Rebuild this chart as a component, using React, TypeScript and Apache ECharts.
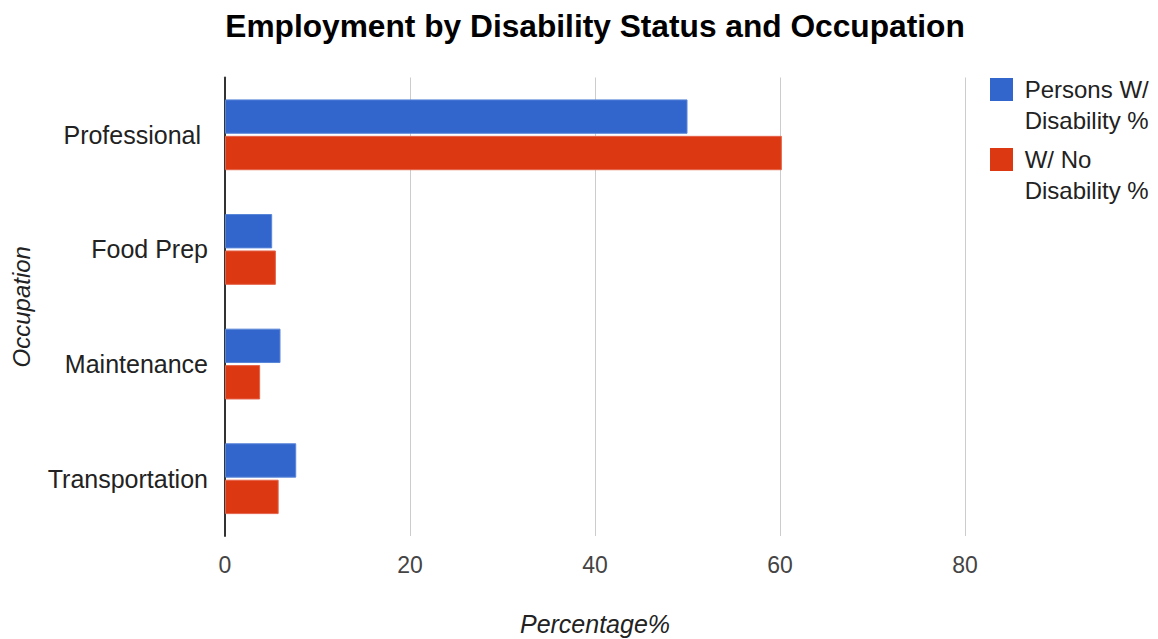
import React, { useEffect, useRef } from "react";
import * as echarts from "echarts";

const categories = ["Professional ", "Food Prep", "Maintenance", "Transportation"];
const withDisability = [50, 5.1, 6, 7.7];
const noDisability = [60.2, 5.5, 3.8, 5.8];
const seriesNames = ["Persons W/ Disability %", "W/ No Disability %"];
const legendLabels: Record<string, string> = {
  "Persons W/ Disability %": "\n Persons W/\n Disability %",
  "W/ No Disability %": "\n W/ No\n Disability %",
};

const FONT = "'Liberation Sans', Arial, sans-serif";

export default function App() {
  const ref = useRef<HTMLDivElement>(null);
  useEffect(() => {
    if (!ref.current) return;
    const chart = echarts.init(ref.current, undefined, { renderer: "svg" });
    chart.setOption({
      animation: false,
      backgroundColor: "#fff",
      textStyle: { fontFamily: FONT },
      title: {
        text: "Employment by Disability Status and Occupation",
        left: 590,
        textAlign: "center",
        top: 5,
        textStyle: { fontFamily: FONT, fontSize: 31.7, fontWeight: "bold", color: "#000" },
      },
      legend: {
        orient: "vertical",
        left: 990,
        top: 43,
        padding: 0,
        itemWidth: 23,
        itemHeight: 23,
        itemGap: -23,
        icon: "rect",
        data: seriesNames,
        formatter: (name: string) => legendLabels[name] || name,
        textStyle: {
          fontFamily: FONT,
          fontSize: 24,
          lineHeight: 31,
          color: "#222",
        },
        itemStyle: { borderWidth: 0 },
      },
      grid: { left: 225, right: 193, top: 77.5, bottom: 103, containLabel: false, outerBoundsMode: "none" },
      xAxis: {
        type: "value",
        min: 0,
        max: 80,
        interval: 20,
        name: "Percentage%",
        nameLocation: "middle",
        nameGap: 75,
        nameTextStyle: { fontFamily: FONT, fontSize: 25, fontStyle: "italic", color: "#222" },
        axisLine: { show: false },
        axisTick: { show: false },
        axisLabel: { fontFamily: FONT, fontSize: 23, color: "#444", margin: 17 },
        splitLine: { show: true, lineStyle: { color: "#ccc", width: 1 } },
      },
      yAxis: {
        type: "category",
        data: categories,
        inverse: true,
        name: "Occupation",
        nameLocation: "middle",
        nameGap: 192,
        nameTextStyle: { fontFamily: FONT, fontSize: 24, fontStyle: "italic", color: "#222" },
        axisLine: { show: true, lineStyle: { color: "#333", width: 2 } },
        axisTick: { show: false },
        axisLabel: { fontFamily: FONT, fontSize: 25, color: "#222", margin: 17 },
        splitLine: { show: false },
      },
      series: [
        {
          name: seriesNames[0],
          type: "bar",
          data: withDisability,
          barWidth: "30%",
          barGap: "6%",
          itemStyle: { color: "#3366cc", borderColor: "#5a86d8", borderWidth: 1 },
        },
        {
          name: seriesNames[1],
          type: "bar",
          data: noDisability,
          barWidth: "30%",
          barGap: "6%",
          itemStyle: { color: "#dc3912", borderColor: "#e4634a", borderWidth: 1 },
        },
      ],
    });
    return () => chart.dispose();
  }, []);
  return <div ref={ref} style={{ width: 1158, height: 639, position: "absolute", left: 0, top: 0 }} />;
}
